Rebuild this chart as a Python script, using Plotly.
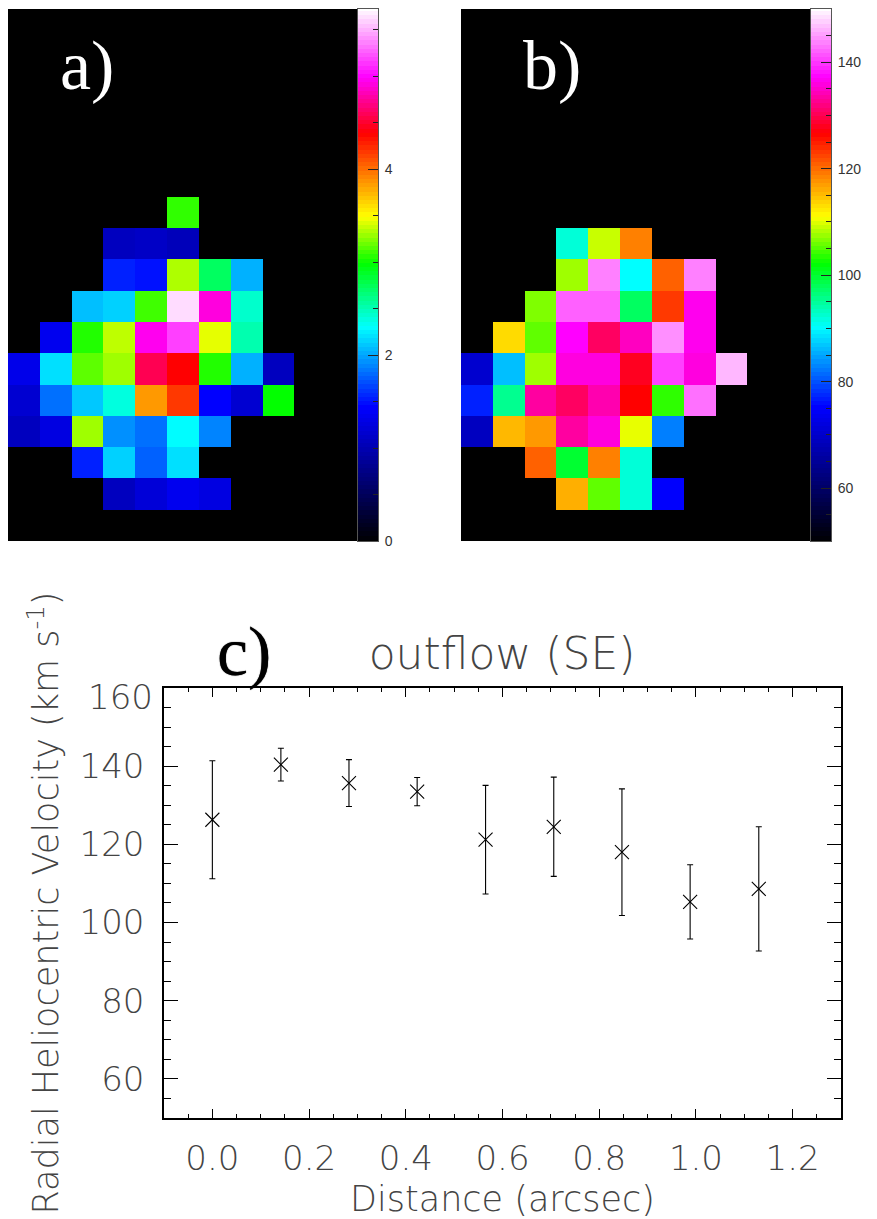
import numpy as np
import plotly.graph_objects as go

W, H = 877, 1219
YH = 1210  # vertical pixel span that paper fractions map onto in the rendered page
N = None

# Panel a: flux map, rows listed bottom to top, 11 columns
flux = [
    [N]*11,
    [N, N, N, 1.08, 1.22, 1.35, 1.27, N, N, N, N],
    [N, N, 1.55, 2.15, 1.77, 2.20, N, N, N, N, N],
    [1.08, 1.27, 3.30, 1.93, 1.82, 2.30, 1.89, N, N, N, N],
    [1.18, 1.82, 2.12, 2.39, 3.85, 4.19, 1.44, 1.18, 2.99, N, N],
    [1.32, 2.20, 3.17, 3.30, 4.58, 4.39, 3.05, 2.04, 1.08, N, N],
    [N, 1.35, 3.05, 3.36, 4.95, 5.17, 3.44, 2.52, N, N, N],
    [N, N, 2.09, 2.15, 3.11, 5.62, 4.91, 2.44, N, N, N],
    [N, N, N, 1.55, 1.50, 3.33, 2.73, 2.04, N, N, N],
    [N, N, N, 1.08, 1.12, 1.05, N, N, N, N, N],
    [N, N, N, N, N, 3.08, N, N, N, N, N],
    [N]*11, [N]*11, [N]*11, [N]*11, [N]*11, [N]*11,
]
# Panel b: velocity map
velocity = [
    [N]*11,
    [N, N, N, 115.9, 105.5, 92.1, 75.0, N, N, N, N],
    [N, N, 120.7, 99.9, 118.8, 92.1, N, N, N, N, N],
    [69.0, 115.4, 117.3, 133.3, 135.9, 110.2, 82.7, N, N, N, N],
    [77.1, 95.5, 133.3, 130.7, 133.9, 126.7, 103.8, 142.8, N, N, N],
    [70.5, 86.5, 107.7, 135.9, 135.9, 128.0, 140.4, 135.9, 146.4, N, N],
    [N, 113.2, 105.5, 137.2, 130.7, 134.6, 144.4, 136.5, N, N, N],
    [N, N, 106.6, 142.0, 142.0, 97.7, 123.2, 136.5, N, N, N],
    [N, N, N, 107.7, 143.6, 90.3, 120.7, 143.6, N, N, N],
    [N, N, N, 92.1, 109.1, 118.8, N, N, N, N, N],
    [N]*11, [N]*11, [N]*11, [N]*11, [N]*11, [N]*11, [N]*11,
]
flux_range = [0, 5.72]
vel_range = [50, 150]
flux_ticks = [0, 2, 4]
vel_ticks = [60, 80, 100, 120, 140]

# Panel c
distance = [0.0, 0.1417, 0.2825, 0.4235, 0.565, 0.706, 0.847, 0.988, 1.13]
rad_vel = [126.3, 140.4, 135.7, 133.5, 121.2, 124.5, 118.0, 105.3, 108.6]
rad_err = [15.1, 4.2, 6.0, 3.6, 13.9, 12.7, 16.2, 9.5, 15.9]
y_ticks = [60, 80, 100, 120, 140]
x_ticks = [0.0, 0.2, 0.4, 0.6, 0.8, 1.0, 1.2]

cscale = [[0, "#000000"], [0.252, "#0000ff"], [0.403, "#00ffff"], [0.522, "#00ff00"],
          [0.61, "#ffff00"], [0.767, "#ff0000"], [0.872, "#ff00ff"], [1, "#ffffff"]]

THIN = "DejaVu Sans"
TXT = "#444444"

def xd(a, b):
    return [a / W, b / W]

def yd(top, bottom):
    return [1 - bottom / YH, 1 - top / YH]

fig = go.Figure()

def add_map(z, rng, n):
    xa, ya = f"x{n}", f"y{n}"
    xb, yb = f"x{n+1}", f"y{n+1}"
    filled = [[rng[0] if v is None else v for v in row] for row in z]
    fig.add_trace(go.Heatmap(z=filled, xaxis=xa, yaxis=ya, zmin=rng[0], zmax=rng[1],
                             colorscale=cscale, showscale=False))
    levels = np.linspace(rng[0], rng[1], 128)
    fig.add_trace(go.Heatmap(z=[[v] for v in levels], x=[0], y=levels, xaxis=xb, yaxis=yb,
                             zmin=rng[0], zmax=rng[1], colorscale=cscale, showscale=False))

add_map(flux, flux_range, 1)
add_map(velocity, vel_range, 3)

fig.add_trace(go.Scatter(
    x=distance, y=rad_vel, mode="markers", xaxis="x5", yaxis="y5",
    marker=dict(symbol="x-thin", size=14, line=dict(width=1.1, color="black"), color="black"),
    error_y=dict(type="data", array=rad_err, color="black", thickness=1.1, width=3),
))

hidden = dict(showticklabels=False, ticks="", showgrid=False, zeroline=False, showline=False)
frame = "#555555"

def bar_axes(anchor, dom_x, rng, ticks, minor):
    xa = dict(domain=dom_x, anchor=f"y{anchor}", showticklabels=False, ticks="", showgrid=False,
              zeroline=False, showline=True, linecolor=frame, linewidth=1, mirror=True,
              range=[-0.5, 0.5], fixedrange=True)
    ya = dict(domain=yd(9, 541), anchor=f"x{anchor}", side="right", range=rng, tickmode="array",
              tickvals=ticks, ticks="inside", ticklen=10, tickwidth=1, tickcolor="#222222",
              minor=dict(dtick=minor, tick0=rng[0], ticks="inside", ticklen=5, tickwidth=1,
                         tickcolor="#222222", showgrid=False),
              showgrid=False, zeroline=False, showline=True, linecolor=frame, linewidth=1, mirror=True,
              tickfont=dict(family="Liberation Sans", size=14, color="#333333"), ticklabelstandoff=3)
    return xa, ya

xa2, ya2 = bar_axes(2, xd(358, 378), flux_range, flux_ticks, 0.5)
xa4, ya4 = bar_axes(4, xd(811, 831), vel_range, vel_ticks, 5)

big = dict(family=THIN, size=34, color=TXT, weight=200)

fig.update_layout(
    width=W, height=H, margin=dict(l=0, r=0, t=0, b=0),
    paper_bgcolor="white", plot_bgcolor="white", showlegend=False,
    title=dict(text="outflow (SE)", x=502 / W, y=1 - 649 / YH, xanchor="center", yanchor="middle",
               font=dict(family=THIN, size=44, color=TXT, weight=200)),
    xaxis=dict(domain=xd(8, 358), anchor="y", range=[-0.5, 10.5], **hidden),
    yaxis=dict(domain=yd(9, 541), anchor="x", range=[-0.5, 16.5], **hidden),
    xaxis2=xa2, yaxis2=ya2,
    xaxis3=dict(domain=xd(461, 811), anchor="y3", range=[-0.5, 10.5], **hidden),
    yaxis3=dict(domain=yd(9, 541), anchor="x3", range=[-0.5, 16.5], **hidden),
    xaxis4=xa4, yaxis4=ya4,
    xaxis5=dict(domain=xd(164, 841), anchor="y5", range=[-0.1, 1.3], tickmode="array",
                tickvals=x_ticks, ticktext=[f"{v:.1f}" for v in x_ticks],
                ticks="inside", ticklen=9, tickwidth=1, tickcolor="black",
                minor=dict(dtick=0.05, tick0=0, ticks="inside", ticklen=4, tickwidth=1, tickcolor="black", showgrid=False),
                showgrid=False, zeroline=False, showline=True, linecolor="black", linewidth=1.5, mirror="allticks",
                tickfont=big, ticklabelstandoff=10,
                title=dict(text="Distance (arcsec)", font=dict(family=THIN, size=35, color=TXT, weight=200), standoff=14)),
    yaxis5=dict(domain=yd(687.5, 1117), anchor="x5", range=[50, 160], tickmode="array",
                tickvals=y_ticks, ticks="inside", ticklen=14, tickwidth=1, tickcolor="black",
                minor=dict(dtick=5, tick0=50, ticks="inside", ticklen=7, tickwidth=1, tickcolor="black", showgrid=False),
                showgrid=False, zeroline=False, showline=True, linecolor="black", linewidth=1.5, mirror="allticks",
                tickfont=big, ticklabelstandoff=11,
                title=dict(text="Radial Heliocentric Velocity (km s<sup>-1</sup>)",
                           font=dict(family=THIN, size=35, color=TXT, weight=200), standoff=10)),
)

def label(text, x, y, **font):
    fig.add_annotation(text=text, x=x / W, y=1 - y / YH, xref="paper", yref="paper",
                       showarrow=False, xanchor="center", yanchor="middle", font=font)

serif = "Liberation Serif"
label("a)", 87, 65, family=serif, size=70, color="white")
label("b)", 552, 65, family=serif, size=70, color="white")
label("c)", 244, 651, family=serif, size=70, color="black", shadow="0 0 1px #000")
label("160", 121, 696, family=THIN, size=34, color=TXT, weight=200)

fig.write_html("out.html", config=dict(displayModeBar=False),
               post_script="document.body.style.margin='0';")
